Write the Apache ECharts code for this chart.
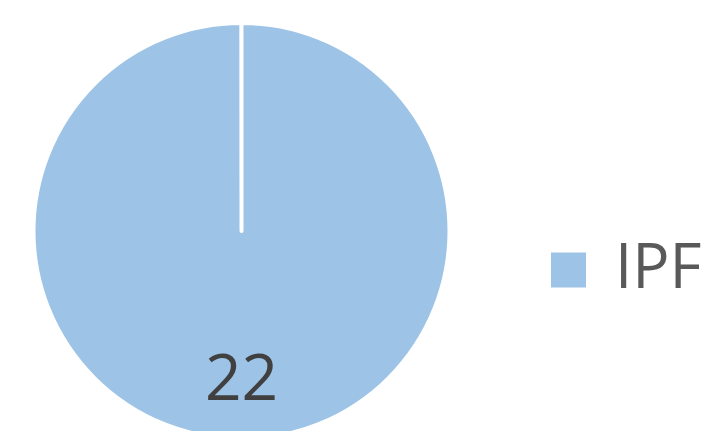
<!DOCTYPE html>
<html><head><meta charset="utf-8">
<script src="https://cdn.jsdelivr.net/npm/echarts@6/dist/echarts.min.js"></script>
<style>html,body{margin:0;padding:0;background:#fff}#c{width:724px;height:431px}</style>
</head><body><div id="c"></div>
<script>
const categories = ['IPF'];
const values = [22];

const chart = echarts.init(document.getElementById('c'), null, {renderer: 'canvas'});
chart.setOption({
  animation: false,
  backgroundColor: '#ffffff',
  color: ['#9DC3E6'],
  legend: {
    orient: 'vertical',
    left: 544,
    top: 234,
    padding: 5,
    icon: 'rect',
    itemWidth: 37,
    itemHeight: 37,
    data: categories,
    textStyle: {fontFamily: 'Open Sans', fontSize: 62, color: '#595959', padding: [0, 0, 0, 23]}
  },
  series: [{
    type: 'pie',
    center: [241.5, 231],
    radius: 208,
    startAngle: 90,
    endAngle: -269.95,
    clockwise: true,
    data: categories.map((c, i) => ({name: c, value: values[i]})),
    itemStyle: {borderColor: '#ffffff', borderWidth: 4},
    label: {
      show: true,
      position: 'inside',
      formatter: '{c}',
      offset: [0, 44],
      fontFamily: 'Open Sans',
      fontSize: 64,
      color: '#404040'
    },
    labelLine: {show: false},
    emphasis: {disabled: true}
  }]
});
</script></body></html>
